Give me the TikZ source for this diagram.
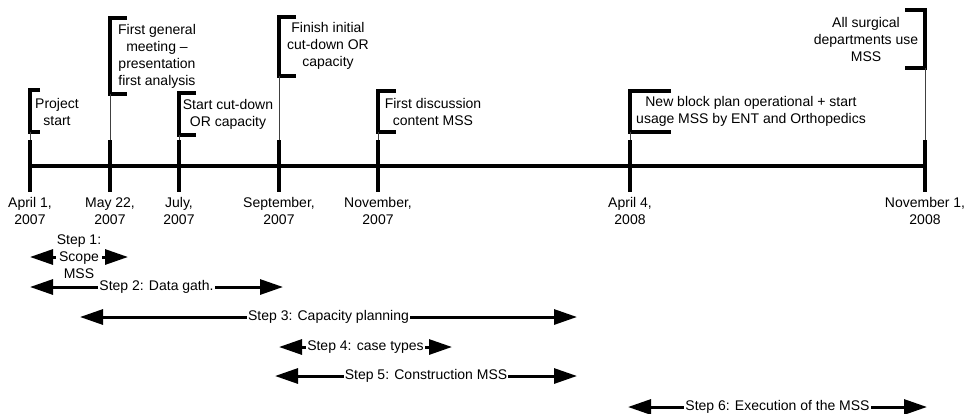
\documentclass[tikz,border=0pt]{standalone}
\usepackage{fontspec}
\setmainfont{Liberation Sans}
\usetikzlibrary{arrows.meta}
\begin{document}
\begin{tikzpicture}[x=1pt,y=-1pt,
  font=\fontsize{14}{17}\selectfont,
  axisline/.style={line width=3.5pt},
  tickline/.style={line width=3.5pt},
  bracketline/.style={line width=3.5pt, line join=miter},
  leader/.style={line width=0.6pt, black!75},
  steparrow/.style={line width=3pt,
    {Triangle[length=23pt,width=15pt]}-{Triangle[length=23pt,width=15pt]}},
  steplabel/.style={fill=white, inner sep=1pt, align=center},
  evt/.style={align=center, inner sep=0pt},
  datelabel/.style={align=center, inner sep=0pt}]
\useasboundingbox (0,0) rectangle (971,413);

% axis and ticks
\coordinate (axL) at (30,166);
\coordinate (axR) at (925,166);
\draw[axisline] (axL) -- (axR);
\foreach \n/\x in {1/30,2/110,3/179,4/279,5/378,6/630,7/925}{
  \coordinate (t\n top) at (\x,140);
  \coordinate (t\n bot) at (\x,192);
  \draw[tickline] (t\n top) -- (t\n bot);
}

% brackets (name, x, top, bottom, stub)
\foreach \n/\x/\yt/\yb/\L in {1/30/90/132/10, 2/110/18/94/17, 3/179/93/135/17,
   4/279/17/76/17, 5/378/91/132/18, 6/630/91/132/41, 7/925/10/68/-20}{
  \coordinate (b\n a) at (\x+\L,\yt);
  \coordinate (b\n b) at (\x,\yt);
  \coordinate (b\n c) at (\x,\yb);
  \coordinate (b\n d) at (\x+\L,\yb);
  \draw[bracketline] (b\n a) -- (b\n b) -- (b\n c) -- (b\n d);
  \draw[leader] (b\n c) -- (t\n top);
}

% event texts
\node[evt] (e1) at (57,111.5) {Project\\start};
\node[evt] (e2) at (157,56.5) {First general\\meeting –\\presentation\\first analysis};
\node[evt] (e3) at (228,114) {Start cut-down\\OR capacity};
\node[evt] (e4) at (328,46) {Finish initial\\cut-down OR\\capacity};
\node[evt] (e5) at (433,111.5) {First discussion\\content MSS};
\node[evt] (e6) at (751,111.5) {New block plan operational + start\\usage MSS by ENT and Orthopedics};
\node[evt] (e7) at (866,39) {All surgical\\departments use\\MSS};

% date labels
\node[datelabel] (d1) at (30,211) {April 1,\\2007};
\node[datelabel] (d2) at (110,211) {May 22,\\2007};
\node[datelabel] (d3) at (179,211) {July,\\2007};
\node[datelabel] (d4) at (279,211) {September,\\2007};
\node[datelabel] (d5) at (378,211) {November,\\2007};
\node[datelabel] (d6) at (630,211) {April 4,\\2008};
\node[datelabel] (d7) at (925,211) {November 1,\\2008};

% step arrows
\coordinate (s1a) at (30,257);  \coordinate (s1b) at (128,257);
\coordinate (s2a) at (30,287);  \coordinate (s2b) at (283,287);
\coordinate (s3a) at (80,317);  \coordinate (s3b) at (577,317);
\coordinate (s4a) at (279,347); \coordinate (s4b) at (452,347);
\coordinate (s5a) at (275,376); \coordinate (s5b) at (577,376);
\coordinate (s6a) at (628,407); \coordinate (s6b) at (927,407);
\draw[steparrow] (s1a) -- node[steplabel] (l1) {Step 1:\\Scope\\MSS} (s1b);
\draw[steparrow] (s2a) -- node[steplabel] (l2) {Step 2: Data gath.} (s2b);
\draw[steparrow] (s3a) -- node[steplabel] (l3) {Step 3: Capacity planning} (s3b);
\draw[steparrow] (s4a) -- node[steplabel] (l4) {Step 4: case types} (s4b);
\draw[steparrow] (s5a) -- node[steplabel] (l5) {Step 5: Construction MSS} (s5b);
\draw[steparrow] (s6a) -- node[steplabel] (l6) {Step 6: Execution of the MSS} (s6b);
\end{tikzpicture}
\end{document}
